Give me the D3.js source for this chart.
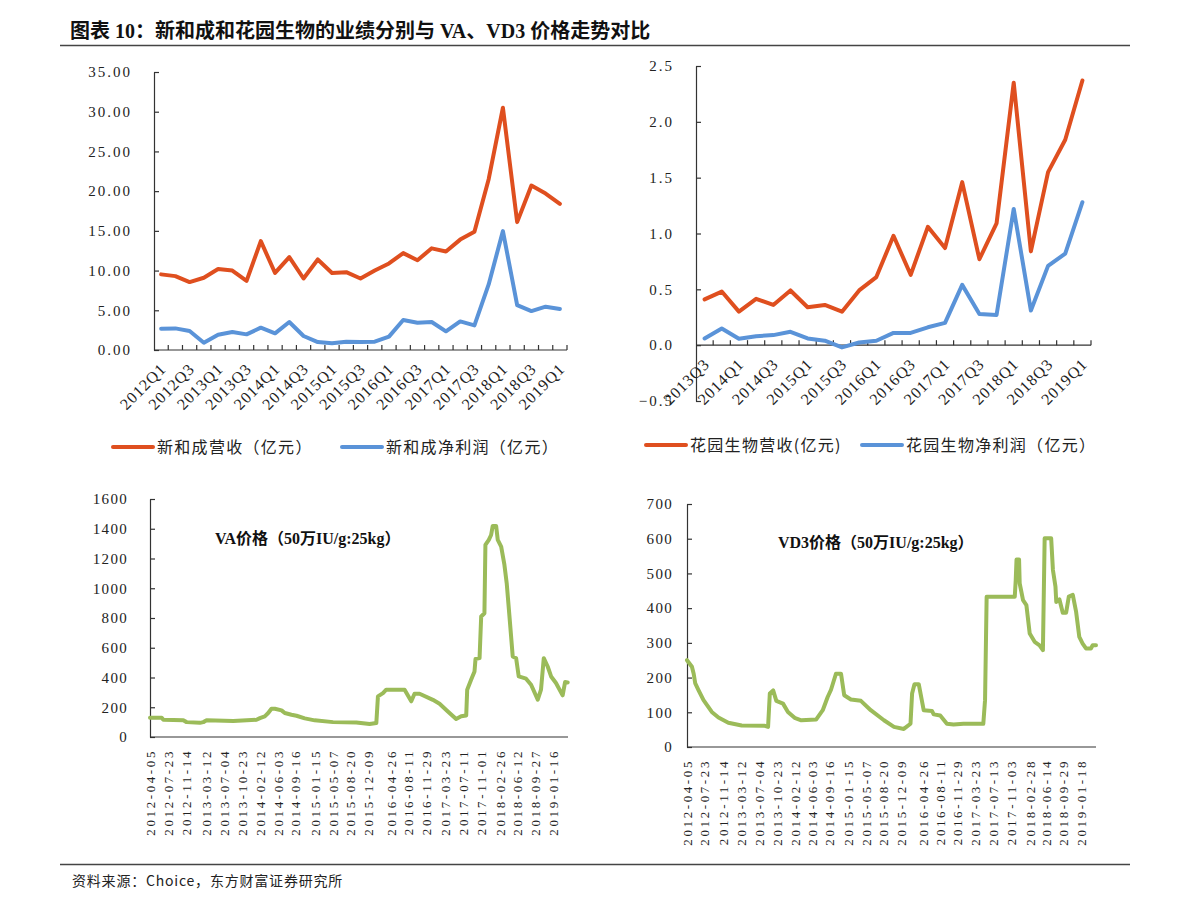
<!DOCTYPE html>
<html><head><meta charset="utf-8">
<script src="https://cdn.jsdelivr.net/npm/d3@7"></script>
<style>
body{margin:0;background:#fff;}
svg{display:block;}
</style></head><body>
<svg id="c" width="1191" height="909"></svg>
<script>
// ---------- DATA ----------
const quartersXHC = ["2012Q1","2012Q2","2012Q3","2012Q4","2013Q1","2013Q2","2013Q3","2013Q4","2014Q1","2014Q2","2014Q3","2014Q4","2015Q1","2015Q2","2015Q3","2015Q4","2016Q1","2016Q2","2016Q3","2016Q4","2017Q1","2017Q2","2017Q3","2017Q4","2018Q1","2018Q2","2018Q3","2018Q4","2019Q1"];
const revenueXHC = [9.52,9.30,8.55,9.10,10.20,10.00,8.70,13.70,9.70,11.70,9.00,11.40,9.70,9.80,9.00,10.00,10.90,12.20,11.30,12.80,12.40,13.90,14.90,21.50,30.50,16.10,20.70,19.70,18.40];
const profitXHC = [2.68,2.72,2.39,0.92,1.93,2.26,1.97,2.81,2.10,3.52,1.76,1.00,0.84,1.05,1.00,1.05,1.68,3.77,3.44,3.52,2.35,3.60,3.10,8.26,14.97,5.66,4.90,5.45,5.16];
const yTicksXHC = [0,5,10,15,20,25,30,35];

const quartersHY = ["2013Q3","2013Q4","2014Q1","2014Q2","2014Q3","2014Q4","2015Q1","2015Q2","2015Q3","2015Q4","2016Q1","2016Q2","2016Q3","2016Q4","2017Q1","2017Q2","2017Q3","2017Q4","2018Q1","2018Q2","2018Q3","2018Q4","2019Q1"];
const revenueHY = [0.41,0.48,0.30,0.415,0.36,0.49,0.34,0.36,0.30,0.49,0.61,0.98,0.63,1.06,0.87,1.46,0.77,1.09,2.35,0.84,1.55,1.84,2.37];
const profitHY = [0.06,0.15,0.057,0.08,0.09,0.12,0.06,0.04,-0.02,0.024,0.04,0.11,0.11,0.16,0.20,0.54,0.28,0.27,1.22,0.31,0.71,0.82,1.28];
const yTicksHY = [-0.5,0,0.5,1.0,1.5,2.0,2.5];

const vaDates = ["2012-04-05","2012-06-16","2012-06-26","2012-10-27","2012-11-16","2013-02-06","2013-02-27","2013-03-19","2013-08-30","2014-01-20","2014-02-10","2014-03-12","2014-04-02","2014-04-22","2014-05-13","2014-06-23","2014-07-13","2014-08-23","2014-09-23","2014-11-13","2015-01-13","2015-05-06","2015-09-26","2015-12-17","2016-01-27","2016-02-06","2016-03-08","2016-03-28","2016-07-19","2016-08-29","2016-09-18","2016-10-19","2017-01-09","2017-02-19","2017-04-11","2017-06-01","2017-07-02","2017-08-02","2017-08-08","2017-09-01","2017-09-22","2017-09-28","2017-10-23","2017-11-02","2017-11-22","2017-11-28","2017-12-19","2018-01-02","2018-01-12","2018-02-02","2018-02-12","2018-03-05","2018-03-25","2018-04-08","2018-04-25","2018-05-15","2018-06-05","2018-06-21","2018-08-05","2018-09-05","2018-10-16","2018-11-05","2018-11-22","2018-12-16","2019-01-06","2019-02-05","2019-03-18","2019-04-02","2019-04-18"];
const vaPrices = [130,130,116,112,100,95,100,112,107,116,127,139,161,190,190,179,161,150,143,125,112,100,98,87,94,273,295,318,318,240,291,291,250,224,172,121,139,145,318,385,441,524,530,810,832,1291,1325,1358,1419,1419,1325,1280,1157,1034,810,542,530,407,392,351,251,318,530,474,407,363,280,369,367];
const vaTickLabels = ["2012-04-05","2012-07-23","2012-11-14","2013-03-12","2013-07-04","2013-10-23","2014-02-12","2014-06-03","2014-09-16","2015-01-15","2015-05-07","2015-08-20","2015-12-09","2016-04-26","2016-08-11","2016-11-29","2017-03-23","2017-07-11","2017-11-01","2018-02-26","2018-06-12","2018-09-27","2019-01-16"];
const vaYTicks = [0,200,400,600,800,1000,1200,1400,1600];

const vd3Dates = ["2012-04-05","2012-05-06","2012-05-17","2012-05-27","2012-06-17","2012-07-18","2012-09-08","2012-10-20","2012-12-21","2013-03-15","2013-08-08","2013-08-28","2013-09-08","2013-09-29","2013-10-19","2013-11-30","2013-12-31","2014-02-11","2014-03-25","2014-06-26","2014-08-07","2014-09-07","2014-09-28","2014-10-29","2014-11-30","2014-12-20","2015-01-31","2015-04-04","2015-06-05","2015-08-27","2015-10-29","2015-12-30","2016-02-10","2016-02-20","2016-03-06","2016-04-02","2016-05-03","2016-06-24","2016-07-05","2016-08-15","2016-09-26","2016-11-07","2017-01-08","2017-05-13","2017-05-24","2017-06-03","2017-11-27","2017-12-03","2017-12-08","2017-12-24","2017-12-28","2018-01-18","2018-02-08","2018-03-01","2018-04-01","2018-05-02","2018-05-23","2018-06-03","2018-07-14","2018-07-25","2018-08-10","2018-08-15","2018-09-04","2018-09-25","2018-10-16","2018-11-02","2018-11-27","2018-12-18","2019-01-07","2019-01-28","2019-02-18","2019-03-21","2019-04-01","2019-04-22"];
const vd3Prices = [250,231,211,183,163,135,101,85,70,62,61,58,154,163,133,125,101,84,77,79,106,144,165,211,211,149,137,133,106,77,58,52,67,154,181,181,106,104,94,91,67,65,67,67,135,433,433,481,540,540,471,423,409,327,303,293,279,601,601,510,462,418,425,387,387,433,438,389,317,298,284,284,293,293];
const vd3TickLabels = ["2012-04-05","2012-07-23","2012-11-14","2013-03-12","2013-07-04","2013-10-23","2014-02-12","2014-06-03","2014-09-16","2015-01-15","2015-05-07","2015-08-20","2015-12-09","2016-04-26","2016-08-11","2016-11-29","2017-03-23","2017-07-13","2017-11-03","2018-02-28","2018-06-14","2018-09-29","2019-01-18"];
const vd3YTicks = [0,100,200,300,400,500,600,700];

// ---------- STYLE ----------
const RED = "#df4f1f", BLUE = "#5a93d8", GREEN = "#9bbb59", AXIS = "#333";
const SERIF = "'Liberation Serif','Noto Sans CJK SC',serif";
const CJK = "'Noto Sans CJK SC','Liberation Serif',sans-serif";
const svg = d3.select("#c");

// title & frame lines
svg.append("text").attr("x",70).attr("y",38).text("图表 10：新和成和花园生物的业绩分别与 VA、VD3 价格走势对比")
  .style("font-family",SERIF).style("font-size","20px").style("font-weight","bold").style("fill","#111");
svg.append("line").attr("x1",60).attr("x2",1130).attr("y1",45.5).attr("y2",45.5).attr("stroke","#444").attr("stroke-width",1.3);
svg.append("line").attr("x1",60).attr("x2",1130).attr("y1",864.5).attr("y2",864.5).attr("stroke","#444").attr("stroke-width",1.3);
svg.append("text").attr("x",72).attr("y",886).text("资料来源：Choice，东方财富证券研究所")
  .style("font-family",CJK).style("font-size","14px").style("fill","#222").style("letter-spacing","0.8px");

function styleYAxis(sel){
  sel.select(".domain").attr("stroke",AXIS).attr("stroke-width",1.2);
  sel.selectAll(".tick line").attr("stroke",AXIS).attr("stroke-width",1.2);
  sel.selectAll("text").style("font-family",SERIF).style("font-size","15px").style("fill","#222");
}

function quarterChart(cfg){
  const g = svg.append("g");
  const x = d3.scaleBand().domain(cfg.cats).range([cfg.x0,cfg.x1]);
  const y = d3.scaleLinear().domain(cfg.yDomain).range([cfg.yBottom,cfg.yTop]);
  const ya = d3.axisLeft(y).tickValues(cfg.yTicks).tickSize(-5).tickSizeOuter(0).tickPadding(cfg.yPad).tickFormat(cfg.fmt);
  const yg = g.append("g").attr("transform",`translate(${cfg.x0},0)`).call(ya);
  styleYAxis(yg);
  yg.selectAll("text").style("letter-spacing","2px");
  const y0 = y(0);
  g.append("line").attr("x1",cfg.x0).attr("x2",cfg.x1).attr("y1",y0).attr("y2",y0).attr("stroke",AXIS).attr("stroke-width",1.2);
  g.selectAll(".qt").data(cfg.cats).enter().append("line")
    .attr("x1",d=>x(d)+x.bandwidth()).attr("x2",d=>x(d)+x.bandwidth())
    .attr("y1",y0).attr("y2",y0-5).attr("stroke",AXIS).attr("stroke-width",1.2);
  g.selectAll(".ql").data(cfg.cats.filter((d,i)=>i%2===0)).enter().append("text")
    .attr("transform",d=>`translate(${x(d)+x.bandwidth()/2+cfg.lx},${y0+cfg.ly}) rotate(-45)`)
    .attr("text-anchor","end").text(d=>d)
    .style("font-family",SERIF).style("font-size","16px").style("letter-spacing","1px").style("fill","#222");
  const line = d3.line().x((d,i)=>x(cfg.cats[i])+x.bandwidth()/2).y(d=>y(d));
  cfg.series.forEach(s=>{
    g.append("path").datum(s.values).attr("d",line).attr("fill","none").attr("stroke",s.color)
      .attr("stroke-width",4).attr("stroke-linejoin","round").attr("stroke-linecap","round");
  });
  cfg.legend.forEach(l=>{
    g.append("line").attr("x1",l.x).attr("x2",l.x+40).attr("y1",l.y).attr("y2",l.y).attr("stroke",l.color).attr("stroke-width",4).attr("stroke-linecap","round");
    g.append("text").attr("x",l.x+44).attr("y",l.y+6).text(l.text)
      .style("font-family",CJK).style("font-size","16px").style("letter-spacing","1.3px").style("fill","#222");
  });
}

quarterChart({cats:quartersXHC,x0:154,x1:567,yTop:72,yBottom:350,yDomain:[0,35],yTicks:yTicksXHC,yPad:22,
  fmt:d3.format(".2f"),lx:6,ly:20,
  series:[{values:revenueXHC,color:RED},{values:profitXHC,color:BLUE}],
  legend:[{x:113,y:447,color:RED,text:"新和成营收（亿元）"},{x:342,y:447,color:BLUE,text:"新和成净利润（亿元）"}]});

quarterChart({cats:quartersHY,x0:696,x1:1091,yTop:66,yBottom:401,yDomain:[-0.5,2.5],yTicks:yTicksHY,yPad:22,
  fmt:d3.format(".1f"),lx:6,ly:20,
  series:[{values:revenueHY,color:RED},{values:profitHY,color:BLUE}],
  legend:[{x:646,y:445,color:RED,text:"花园生物营收(亿元)"},{x:862,y:445,color:BLUE,text:"花园生物净利润（亿元）"}]});

function priceChart(cfg){
  const g = svg.append("g");
  const parse = d3.timeParse("%Y-%m-%d");
  const x = d3.scaleTime().domain(cfg.xDomain.map(parse)).range([cfg.x0,cfg.x1]);
  const y = d3.scaleLinear().domain([0,cfg.yTicks[cfg.yTicks.length-1]]).range([cfg.yBottom,cfg.yTop]);
  const ya = d3.axisLeft(y).tickValues(cfg.yTicks).tickSize(-5).tickSizeOuter(0).tickPadding(cfg.yPad).tickFormat(d3.format("d"));
  const yg = g.append("g").attr("transform",`translate(${cfg.x0},0)`).call(ya);
  styleYAxis(yg);
  yg.selectAll("text").style("letter-spacing","1.3px");
  const xa = d3.axisBottom(x).tickValues(cfg.tickLabels.map(parse)).tickSize(0).tickSizeOuter(0).tickFormat(d3.timeFormat("%Y-%m-%d"));
  const xg = g.append("g").attr("transform",`translate(0,${cfg.yBottom})`).call(xa);
  xg.select(".domain").attr("stroke",AXIS).attr("stroke-width",1.2).attr("d",`M${cfg.x0},0H${cfg.x1}`);
  xg.selectAll("text").attr("transform","rotate(-90)").attr("x",-cfg.lpad).attr("y",0).attr("dy","0.35em")
    .style("text-anchor","end").style("font-family",SERIF).style("font-size","13px").style("letter-spacing","2.6px").style("fill","#222");
  const line = d3.line().x((d,i)=>x(parse(cfg.dates[i]))).y(d=>y(d));
  g.append("path").datum(cfg.values).attr("d",line).attr("fill","none").attr("stroke",GREEN)
    .attr("stroke-width",4).attr("stroke-linejoin","round").attr("stroke-linecap","round");
  g.append("text").attr("x",cfg.tx).attr("y",cfg.ty).text(cfg.title)
    .style("font-family",SERIF).style("font-size","16px").style("font-weight","bold").style("fill","#111");
}

priceChart({x0:150,x1:568,yTop:499,yBottom:737,xDomain:["2012-04-05","2019-04-20"],yTicks:vaYTicks,yPad:22,lpad:12,
  dates:vaDates,values:vaPrices,tickLabels:vaTickLabels,title:"VA价格（50万IU/g:25kg）",tx:215,ty:544});
priceChart({x0:687,x1:1096,yTop:504,yBottom:747,xDomain:["2012-04-05","2019-04-22"],yTicks:vd3YTicks,yPad:14,lpad:12,
  dates:vd3Dates,values:vd3Prices,tickLabels:vd3TickLabels,title:"VD3价格（50万IU/g:25kg）",tx:778,ty:548});
</script>
</body></html>
